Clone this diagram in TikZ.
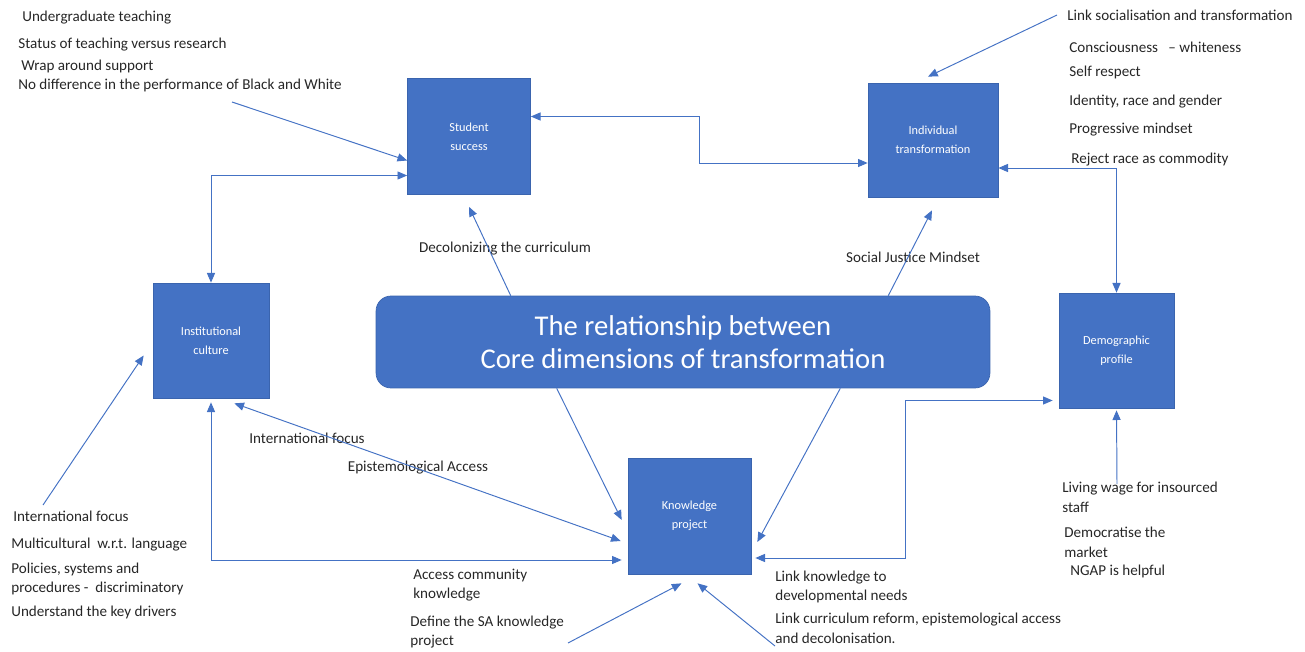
\documentclass[tikz,border=0pt]{standalone}
\usepackage{fontspec}
\setmainfont{Carlito}
\usetikzlibrary{arrows.meta,calc}
\definecolor{offblue}{HTML}{4472C4}
\definecolor{edgeblue}{HTML}{3A64AE}
\definecolor{noteink}{HTML}{262626}
\begin{document}
\begin{tikzpicture}[x=0.02cm, y=-0.02cm,
		dim/.style = {fill=offblue, draw=edgeblue, line width=0.4pt, minimum width=2.46cm, minimum height=2.32cm, inner sep=0pt, align=center, text=white, font=\fontsize{7}{10.8}\selectfont},
		title/.style = {fill=offblue, draw=edgeblue, line width=0.4pt, rounded corners=0.3cm, minimum width=12.28cm, minimum height=1.84cm, align=center, text=white, font=\fontsize{16.3}{18.8}\selectfont},
		note/.style = {anchor=west, inner sep=0pt, align=left, text=noteink, font=\fontsize{8.6}{11.2}\selectfont},
		lbl/.style = {inner sep=0pt, text=noteink, font=\fontsize{8.6}{11.2}\selectfont},
		link/.style = {draw=offblue, line width=0.55pt, -{Triangle[length=5.5pt,width=4.6pt]}},
		both/.style = {link, {Triangle[length=5.5pt,width=4.6pt]}-{Triangle[length=5.5pt,width=4.6pt]}}]

	\useasboundingbox (0,0) rectangle (1305,652);

	\node[dim] (ss) at (469,136.5) {Student\\success};
	\node[dim, minimum width=2.6cm, minimum height=2.28cm] (it) at (933,140) {Individual\\transformation};
	\node[dim, minimum width=2.32cm, minimum height=2.3cm] (ic) at (211,340.5) {Institutional\\culture};
	\node[dim, minimum width=2.3cm, minimum height=2.3cm] (dp) at (1116.5,350.5) {Demographic\\profile};
	\node[dim] (kp) at (689.5,516) {Knowledge\\project};
	\node[title] (tb) at (683,342) {The relationship between\\Core dimensions of transformation};

	\node[note] (ug) at (22,18) {Undergraduate teaching};
	\node[note] (st) at (18,45) {Status of teaching versus research};
	\node[note] (wr) at (21,66) {Wrap around support};
	\node[note] (nd) at (18,85) {No difference in the performance of Black and White};

	\node[note] (ls) at (1067,15) {Link socialisation and transformation};
	\node[note] (cw) at (1069,47) {Consciousness \ \ -- whiteness};
	\node[note] (sr) at (1069,72) {Self respect};
	\node[note] (ir) at (1069,102) {Identity, race and gender};
	\node[note] (pm) at (1069,130) {Progressive mindset};
	\node[note] (rr) at (1071,160) {Reject race as commodity};

	\node[note] (if) at (13,516) {International focus};
	\node[note] (ml) at (11,545) {Multicultural \ w.r.t. language};
	\node[note] (ps) at (11,579) {Policies, systems and\\procedures - \ discriminatory};
	\node[note] (uk) at (11,612) {Understand the key drivers};

	\node[note] (ac) at (413,585) {Access community\\knowledge};
	\node[note] (ds) at (410,632) {Define the SA knowledge\\project};
	\node[note] (lk) at (775,587) {Link knowledge to\\developmental needs};
	\node[note] (lc) at (775,628) {Link curriculum reform, epistemological access\\and decolonisation.};

	\node[note] (lw) at (1062,497) {Living wage for insourced\\staff};
	\node[note] (dm) at (1064,542) {Democratise the\\market};
	\node[note] (ng) at (1070,571) {NGAP is helpful};

	\node[lbl] (dc) at (505,249) {Decolonizing the curriculum};
	\node[lbl] (sj) at (913,257) {Social Justice Mindset};
	\node[lbl] (ifl) at (307,438) {International focus};
	\node[lbl] (ea) at (418,468) {Epistemological Access};

	\coordinate (c-perf) at (232,102);
	\coordinate (c-soc) at (1057,15);
	\coordinate (c-wage) at (1117,484);
	\coordinate (c-intl) at (43,505);
	\coordinate (c-def) at (568,643);
	\coordinate (c-cur) at (775,646);

	\draw[link] (c-perf) -- ($(ss.west)+(0,24)$);
	\draw[both] (ic.north) |- ($(ss.west)+(0,39)$);
	\draw[both] ($(ss.east)+(0,-20)$) -| ($(ss.east)!0.5!(it.west)$) |- ($(it.west)+(0,23)$);
	\draw[both] ($(it.east)+(0,28)$) -| (dp.north);
	\draw[link] (c-soc) -- ($(it.north)+(-5,-6)$);
	\draw[link] ($(tb.north west)+(135,0)$) -- ($(ss.south)+(0,12)$);
	\draw[link] ($(tb.north east)+(-102,0)$) -- ($(it.south)+(-1,13)$);
	\draw[link] ($(tb.south west)+(181,0)$) -- ($(kp.west)+(-6,4)$);
	\draw[link] ($(tb.south east)+(-150,0)$) -- ($(kp.east)+(6,26)$);
	\draw[both] ($(kp.east)+(4,42)$) -| ($(kp.east)!0.5!(dp.west)$) |- ($(dp.west)+(-6,50)$);
	\draw[link] (c-wage) -- ($(dp.south)+(0,2)$);
	\draw[link] (c-intl) -- ($(ic.west)+(-9,15)$);
	\draw[both] ($(kp.west)+(-6,44)$) -| ($(ic.south)+(0,4)$);
	\draw[both] ($(ic.south east)+(-35,5)$) -- ($(kp.west)+(-7,25)$);
	\draw[link] (c-def) -- ($(kp.south)+(-8,9)$);
	\draw[link] (c-cur) -- ($(kp.south)+(8,9)$);
\end{tikzpicture}
\end{document}
